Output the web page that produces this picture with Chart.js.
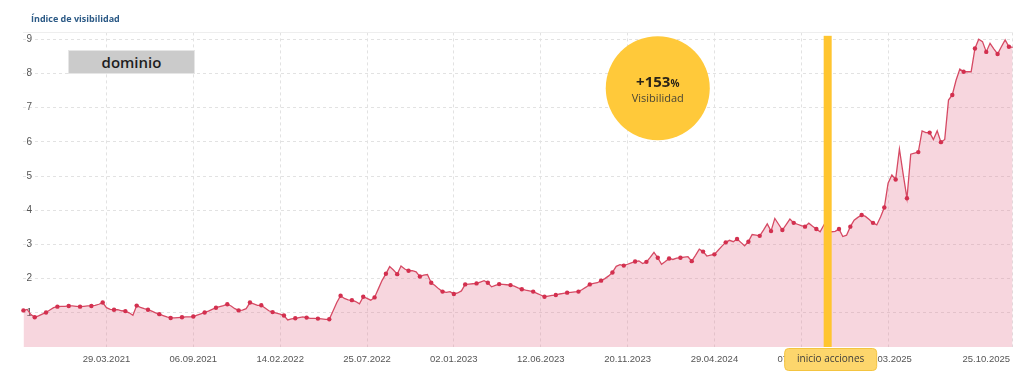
<!DOCTYPE html>
<html>
<head>
<meta charset="utf-8">
<script src="https://cdn.jsdelivr.net/npm/chart.js@4.4.0/dist/chart.umd.min.js"></script>
<style>
  html, body { margin: 0; padding: 0; background: #fff; }
  #wrap { position: relative; width: 1024px; height: 376px; overflow: hidden; }
  #chart { position: absolute; left: 0; top: 0; }
  #title { position: absolute; left: 31px; top: 12px; font: bold 9px 'Open Sans', sans-serif; color: #2c5a86; }
  #dominio { position: absolute; left: 68px; top: 50px; width: 125px; height: 22px; background: #cbcbcb;
    border: 1px solid #e6e6e6; font: 600 15px 'Open Sans', sans-serif; color: #1e1e1e; text-align: center; line-height: 22px; }
</style>
</head>
<body>
<div id="wrap">
  <canvas id="chart" width="1024" height="376"></canvas>
  <div id="title">Índice de visibilidad</div>
  <div id="dominio">dominio</div>
</div>
<script>
// weekly visibility index, first point = week of 26.10.2020
const values = [
  1.07, 1.10, 0.95, 0.87, 0.91, 0.96, 1.01, 1.08, 1.15, 1.18, 1.19, 1.19,
  1.20, 1.20, 1.19, 1.18, 1.19, 1.20, 1.20, 1.22, 1.25, 1.30, 1.15, 1.10,
  1.09, 1.09, 1.06, 1.05, 1.00, 0.93, 1.21, 1.16, 1.12, 1.09, 1.05, 1.00,
  0.96, 0.92, 0.88, 0.85, 0.85, 0.86, 0.87, 0.88, 0.88, 0.89, 0.93, 0.97,
  1.01, 1.05, 1.10, 1.15, 1.18, 1.21, 1.25, 1.20, 1.12, 1.07, 1.08, 1.12,
  1.30, 1.26, 1.22, 1.22, 1.14, 1.06, 1.02, 0.99, 0.96, 0.92, 0.79, 0.82,
  0.84, 0.86, 0.88, 0.86, 0.84, 0.84, 0.83, 0.82, 0.81, 0.81, 1.05, 1.30,
  1.50, 1.42, 1.38, 1.37, 1.33, 1.26, 1.47, 1.42, 1.37, 1.45, 1.70, 1.95,
  2.14, 2.35, 2.25, 2.13, 2.37, 2.28, 2.23, 2.23, 2.20, 2.06, 2.10, 2.12,
  1.88, 1.80, 1.70, 1.62, 1.60, 1.62, 1.55, 1.58, 1.64, 1.83, 1.84, 1.85,
  1.86, 1.90, 1.94, 1.88, 1.76, 1.80, 1.84, 1.83, 1.82, 1.81, 1.78, 1.73,
  1.69, 1.66, 1.64, 1.62, 1.57, 1.52, 1.47, 1.49, 1.51, 1.52, 1.55, 1.57,
  1.59, 1.60, 1.61, 1.62, 1.68, 1.75, 1.83, 1.86, 1.88, 1.94, 2.00, 2.08,
  2.18, 2.36, 2.41, 2.38, 2.42, 2.46, 2.50, 2.52, 2.44, 2.49, 2.62, 2.77,
  2.61, 2.42, 2.50, 2.59, 2.56, 2.60, 2.61, 2.63, 2.64, 2.51, 2.68, 2.86,
  2.79, 2.66, 2.69, 2.71, 2.83, 2.95, 3.06, 3.12, 3.08, 3.16, 3.06, 2.96,
  3.08, 3.29, 3.27, 3.25, 3.42, 3.60, 3.39, 3.76, 3.59, 3.42, 3.58, 3.74,
  3.63, 3.59, 3.55, 3.52, 3.62, 3.53, 3.45, 3.37, 3.57, 3.40, 3.37, 3.38,
  3.45, 3.23, 3.27, 3.52, 3.71, 3.79, 3.86, 3.82, 3.73, 3.63, 3.57, 3.80,
  4.08, 4.79, 5.03, 4.90, 5.79, 5.05, 4.35, 5.64, 5.67, 5.70, 6.32, 6.27,
  6.27, 6.07, 6.32, 5.99, 6.07, 7.22, 7.37, 7.80, 8.13, 8.05, 8.05, 8.05,
  8.73, 9.00, 8.93, 8.63, 8.88, 8.72, 8.57, 8.78, 8.98, 8.78, 8.76
];
const weeks = values.map((_, i) => i);

const tickLabels = ['29.03.2021', '06.09.2021', '14.02.2022', '25.07.2022', '02.01.2023', '12.06.2023',
  '20.11.2023', '29.04.2024', '07.10.2024', '17.03.2025', '25.10.2025'];
const tickWeeks = [22, 45, 68, 91, 114, 137, 160, 183, 206, 229, 255];
const gridWeeks = [22, 45, 68, 91, 114, 137, 160, 183, 206, 229, 262];
const yTicks = [0, 1, 2, 3, 4, 5, 6, 7, 8, 9, 9.2];

const startWeek = 213;          // inicio acciones
const startLabel = 'inicio acciones';
const bubble = { week: 168, value: 7.57, big: '+153', pct: '%', text: 'Visibilidad' };

const markers = {
  id: 'markers',
  afterDraw(chart) {
    const { ctx, scales: { x, y } } = chart;
    ctx.save();

    // bubble
    const bx = x.getPixelForValue(bubble.week);
    const by = y.getPixelForValue(bubble.value);
    ctx.fillStyle = '#ffc93a';
    ctx.beginPath();
    ctx.arc(bx, by, 52, 0, Math.PI * 2);
    ctx.fill();
    ctx.textBaseline = 'alphabetic';
    ctx.fillStyle = '#2a2418';
    ctx.font = "bold 15px 'Open Sans', sans-serif";
    const w1 = ctx.measureText(bubble.big).width;
    ctx.font = "bold 10px 'Open Sans', sans-serif";
    const w2 = ctx.measureText(bubble.pct).width;
    const sx = bx - (w1 + w2) / 2;
    ctx.textAlign = 'left';
    ctx.font = "bold 15px 'Open Sans', sans-serif";
    ctx.fillText(bubble.big, sx, by - 1);
    ctx.font = "bold 10px 'Open Sans', sans-serif";
    ctx.fillText(bubble.pct, sx + w1, by - 1);
    ctx.textAlign = 'center';
    ctx.fillStyle = '#4a4535';
    ctx.font = "11px 'Open Sans', sans-serif";
    ctx.fillText(bubble.text, bx, by + 14);

    // start line
    const lx = x.getPixelForValue(startWeek);
    const top = y.getPixelForValue(9.1);
    const bottom = y.getPixelForValue(0);
    ctx.fillStyle = '#ffc52f';
    ctx.fillRect(lx - 4, top, 8, bottom - top);

    // label box
    const cx = lx + 3;
    ctx.beginPath();
    ctx.roundRect(cx - 46, bottom + 1.5, 92, 22, 4);
    ctx.fillStyle = '#fdd66c';
    ctx.fill();
    ctx.strokeStyle = '#f4c440';
    ctx.lineWidth = 1;
    ctx.stroke();
    ctx.fillStyle = '#3c3c3c';
    ctx.font = "10px 'Open Sans', sans-serif";
    ctx.textBaseline = 'middle';
    ctx.fillText(startLabel, cx, bottom + 12.5);
    ctx.restore();
  }
};

new Chart(document.getElementById('chart'), {
  type: 'line',
  data: {
    labels: weeks,
    datasets: [{
      data: values,
      borderColor: '#d64a64',
      borderWidth: 1.3,
      backgroundColor: 'rgba(228, 120, 145, 0.3)',
      fill: 'origin',
      tension: 0,
      pointRadius: c => (c.index % 3 === 0 ? 2.2 : 0),
      pointBackgroundColor: '#d3304f',
      pointBorderWidth: 0,
      clip: 6
    }]
  },
  options: {
    responsive: false,
    animation: false,
    events: [],
    layout: { padding: { left: 23.4, right: 11.3, top: 32.4, bottom: 0 } },
    plugins: { legend: { display: false }, tooltip: { enabled: false } },
    scales: {
      x: {
        afterFit: s => { s.height = 29; s.paddingLeft = 0; s.paddingRight = 0; },
        border: { display: false, dash: [3, 3] },
        grid: {
          drawTicks: false,
          color: c => (gridWeeks.includes(c.index) ? '#e2e2e2' : 'transparent')
        },
        ticks: {
          autoSkip: false,
          maxRotation: 0,
          padding: 7,
          color: '#555',
          font: { family: 'Liberation Sans', size: 9.5 },
          callback: (v, i) => {
            const k = tickWeeks.indexOf(i);
            return k >= 0 ? tickLabels[k] : '';
          }
        }
      },
      y: {
        min: 0,
        max: 9.2,
        afterFit: s => { s.width = 0; },
        afterBuildTicks: s => { s.ticks = yTicks.map(v => ({ value: v })); },
        border: { display: false, dash: c => (c.tick && c.tick.value > 9 ? [] : [3, 3]) },
        grid: {
          drawTicks: false,
          color: c => (c.tick.value === 0 ? 'transparent' : c.tick.value > 9 ? '#eeeeee' : '#e2e2e2')
        },
        ticks: {
          mirror: true,
          padding: 3,
          color: '#555',
          font: { family: 'Liberation Sans', size: 10 },
          callback: v => (v >= 1 && v <= 9 && Number.isInteger(v) ? v : '')
        }
      }
    }
  },
  plugins: [markers]
});
</script>
</body>
</html>
